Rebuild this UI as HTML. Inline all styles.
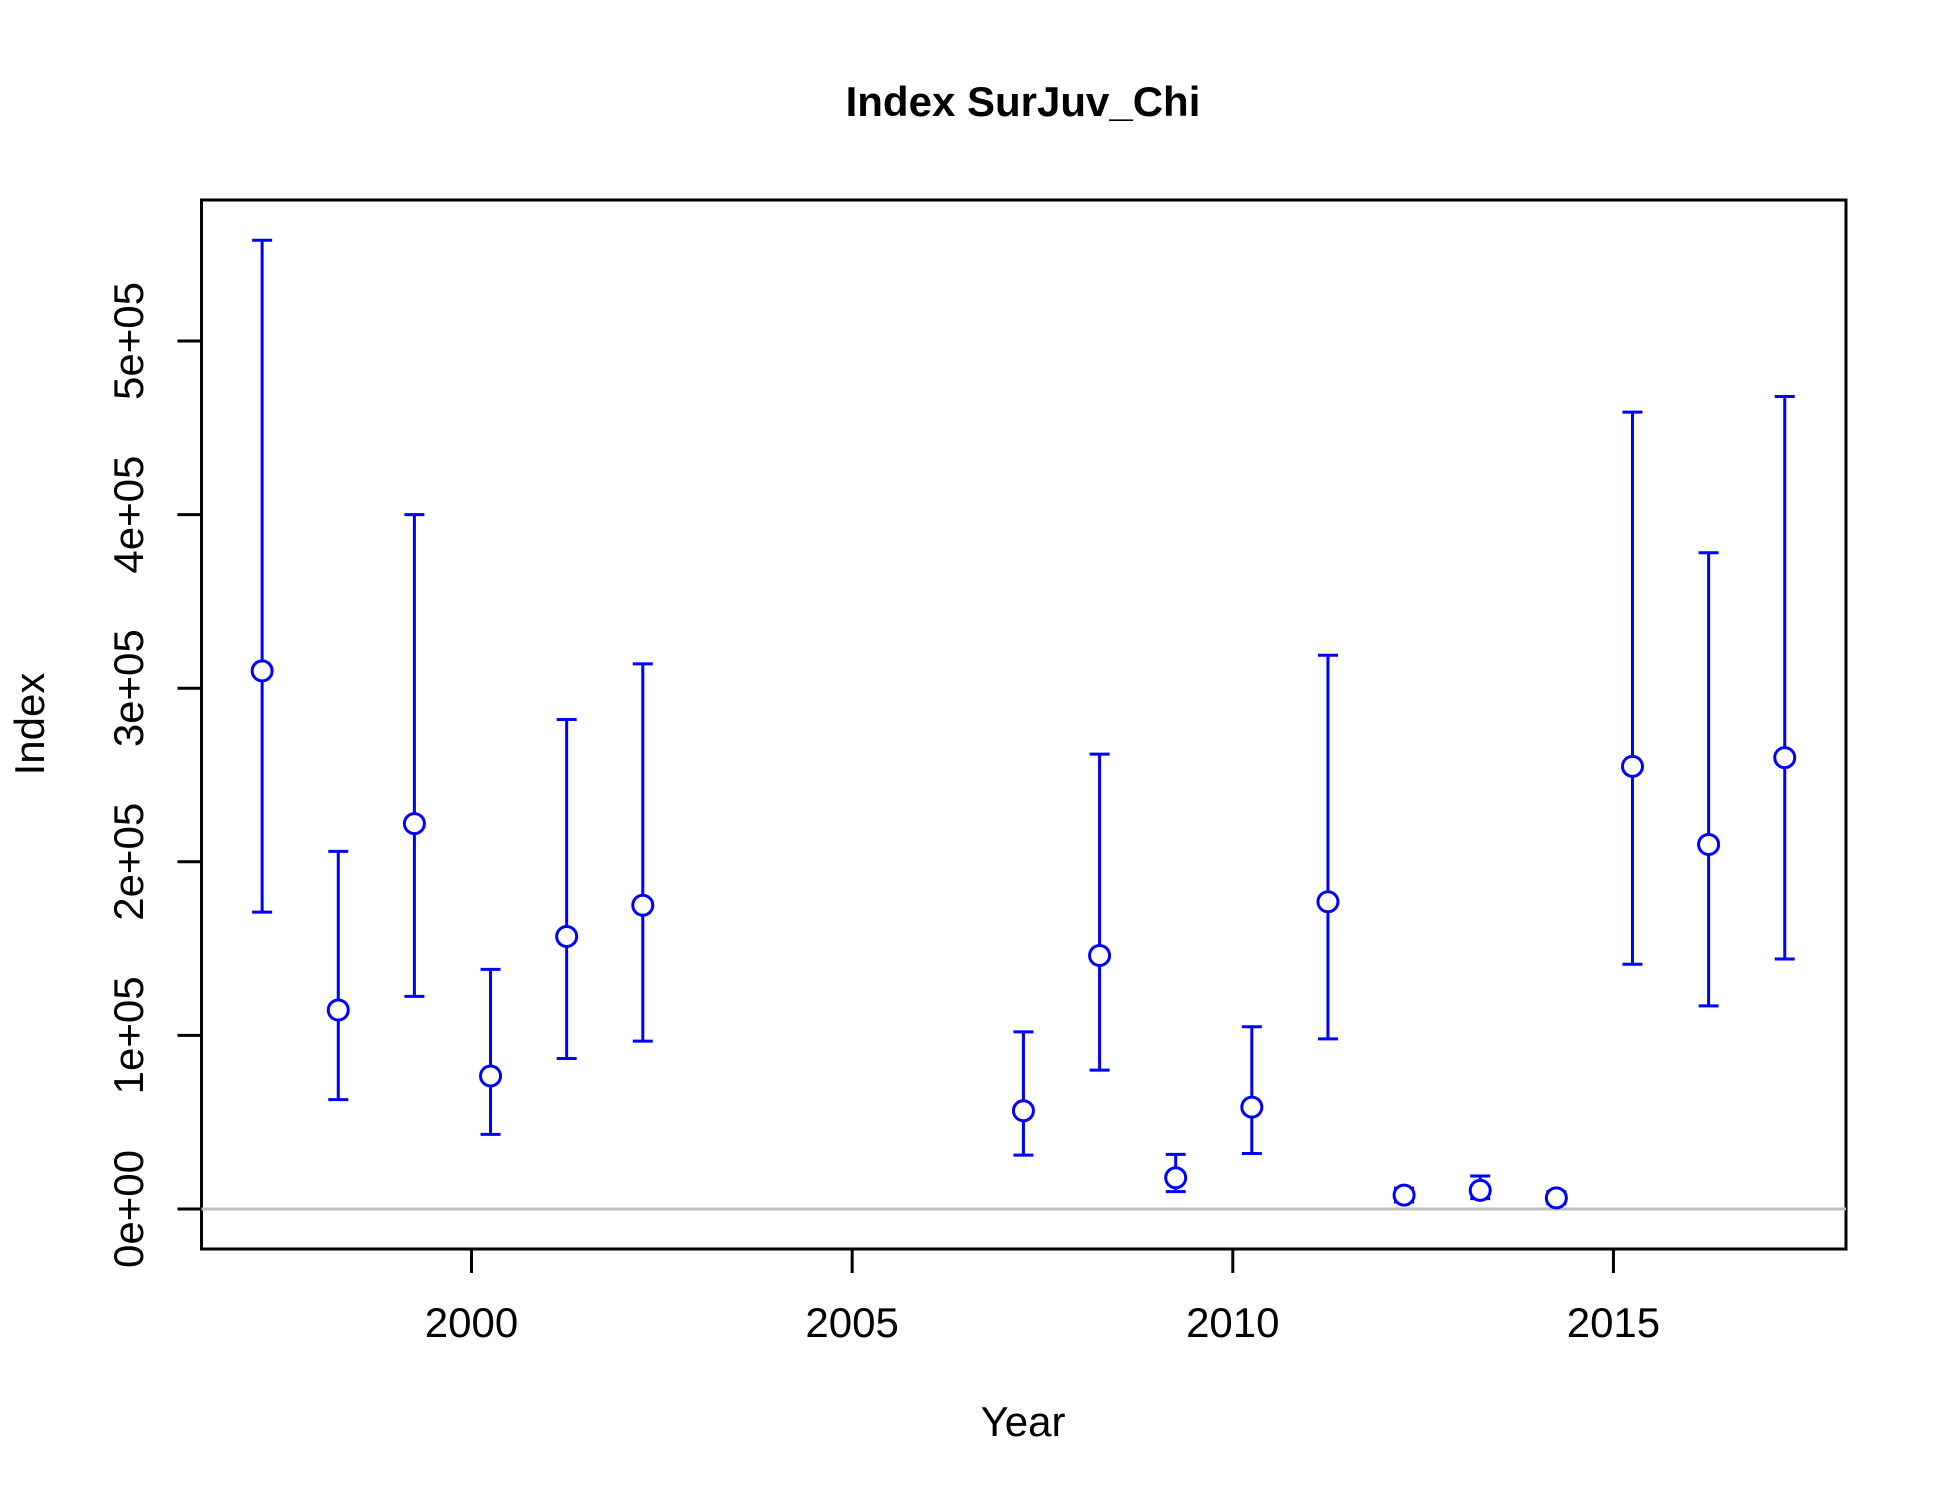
<!DOCTYPE html>
<html><head><meta charset="utf-8"><style>body{margin:0;background:#fff}svg{display:block}text{font-family:"Liberation Sans",Arial,sans-serif}</style></head>
<body>
<svg id="c" width="1950" height="1500" xmlns="http://www.w3.org/2000/svg">
<text x="1023" y="116" text-anchor="middle" font-size="42" font-weight="bold">Index SurJuv_Chi</text>
<rect x="201.5" y="200" width="1644.5" height="1049" fill="none" stroke="#000" stroke-width="3"/>
<text x="1023" y="1436" text-anchor="middle" font-size="42">Year</text>
<text transform="translate(44,724) rotate(-90)" text-anchor="middle" font-size="42">Index</text>
<g id="g"></g>
</svg>
<script>
const years=[1997,1998,1999,2000,2001,2002,2007,2008,2009,2010,2011,2012,2013,2014,2015,2016,2017];
const values=[3.10,1.146,2.22,0.766,1.57,1.75,0.566,1.46,0.18,0.587,1.77,0.08,0.107,0.064,2.55,2.10,2.60];
const upper=[5.58,2.06,4.0,1.38,2.82,3.14,1.02,2.62,0.315,1.05,3.19,0.12,0.19,0.10,4.59,3.78,4.68];
const lower=[1.71,0.63,1.225,0.43,0.867,0.967,0.31,0.80,0.10,0.32,0.98,0.04,0.06,0.03,1.41,1.17,1.44];
const xTicks=[2000,2005,2010,2015];
const yTicks=[0,1,2,3,4,5];
const yTickLabels=["0e+00","1e+05","2e+05","3e+05","4e+05","5e+05"];
const NS="http://www.w3.org/2000/svg";
const g=document.getElementById('g');
const X=y=>471.5+(y-2000)*76.13;
const Y=v=>1209-v*173.6;
function mk(t,a){const e=document.createElementNS(NS,t);for(const k in a)e.setAttribute(k,a[k]);g.appendChild(e);return e;}
const h=mk('line',{x1:201.5,x2:1846,y1:Y(0),y2:Y(0),stroke:'#bebebe','stroke-width':3});


xTicks.forEach(t=>{
 const l=mk('line',{x1:X(t),x2:X(t),y1:1249,y2:1273,stroke:'#000','stroke-width':3});
 
 
 const tx=mk('text',{x:X(t),y:1337,'text-anchor':'middle','font-size':42});tx.textContent=t;
 
 
});
yTicks.forEach((t,i)=>{
 const l=mk('line',{x1:177.5,x2:201.5,y1:Y(t),y2:Y(t),stroke:'#000','stroke-width':3});
 
 
 const tx=mk('text',{transform:`translate(143,${Y(t)}) rotate(-90)`,'text-anchor':'middle','font-size':42});tx.textContent=yTickLabels[i];
 
 
});
years.forEach((yr,i)=>{
 const x=X(yr+0.25);
 const bar=mk('path',{d:`M${x},${Y(lower[i])}V${Y(upper[i])}M${x-10},${Y(lower[i])}H${x+10}M${x-10},${Y(upper[i])}H${x+10}`,stroke:'#0000ff','stroke-width':3,fill:'none'});
 
 
 const c=mk('circle',{cx:x,cy:Y(values[i]),r:10,fill:'#fff',stroke:'#0000ff','stroke-width':3});
 
 
});
</script>
</body></html>
